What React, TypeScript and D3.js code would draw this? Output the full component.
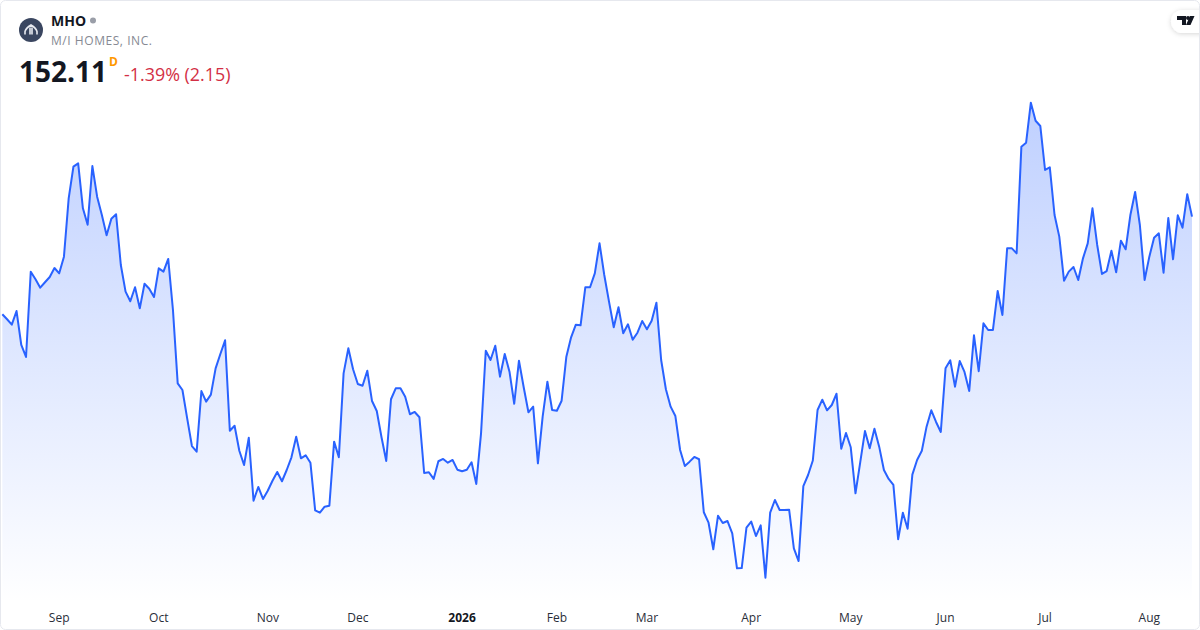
import React from 'react';
import * as d3 from 'd3';

const W = 1200;
const H = 630;
const FONT = '"Open Sans", "Noto Sans", sans-serif';

const symbol = 'MHO';
const company = 'M/I HOMES, INC.';
const lastPrice = '152.11';
const interval = 'D';
const change = '-1.39% (2.15)';

// daily closes
const closes = [
  142.74, 142.26, 141.74, 143.05, 139.79, 138.64, 146.83, 146.10, 145.29, 145.81, 146.32, 147.18,
  146.67, 148.27, 153.87, 156.91, 157.23, 152.91, 151.34, 156.97, 154.03, 152.27, 150.32, 151.91,
  152.34, 147.47, 144.91, 143.99, 145.33, 143.31, 145.67, 145.19, 144.40, 147.15, 146.83, 148.05,
  143.15, 136.11, 135.47, 132.75, 130.09, 129.55, 135.37, 134.35, 135.02, 137.55, 138.93, 140.24,
  131.56, 132.04, 129.64, 128.27, 130.89, 124.84, 126.16, 125.01, 125.80, 126.76, 127.60, 126.71,
  127.79, 129.01, 130.99, 128.91, 129.20, 128.49, 123.92, 123.69, 124.27, 124.36, 130.51, 129.01,
  137.07, 139.47, 137.46, 136.05, 135.88, 137.32, 134.41, 133.45, 130.93, 128.65, 134.58, 135.63,
  135.63, 134.83, 133.14, 133.36, 132.85, 127.50, 127.57, 126.93, 128.63, 128.85, 128.49, 128.75,
  127.82, 127.67, 127.82, 128.53, 126.45, 131.31, 139.24, 138.35, 139.72, 136.75, 138.93, 137.23,
  134.15, 138.28, 135.73, 133.33, 133.87, 128.43, 132.91, 136.27, 133.55, 133.48, 134.44, 138.67,
  140.53, 141.74, 141.68, 145.33, 145.33, 146.67, 149.55, 146.51, 143.95, 141.49, 143.41, 140.91,
  141.78, 140.30, 140.97, 142.09, 141.30, 142.12, 143.85, 138.35, 135.54, 133.87, 132.97, 129.71,
  128.17, 128.59, 129.04, 128.82, 123.73, 122.73, 120.18, 123.40, 122.70, 122.89, 121.71, 118.35,
  118.38, 122.25, 122.83, 121.45, 122.48, 117.45, 123.69, 124.91, 123.95, 123.95, 123.98, 120.27,
  119.05, 126.25, 127.31, 128.70, 133.55, 134.54, 133.52, 134.03, 135.11, 129.83, 131.34, 129.97,
  125.55, 128.53, 131.53, 129.87, 131.75, 130.03, 127.79, 126.93, 126.35, 121.14, 123.69, 122.15,
  127.34, 128.75, 129.64, 131.95, 133.52, 132.40, 131.44, 137.55, 138.32, 135.79, 138.25, 137.20,
  135.37, 140.72, 137.27, 141.87, 141.23, 141.23, 144.97, 142.67, 149.07, 149.07, 148.59, 158.83,
  159.21, 163.05, 161.32, 160.81, 156.59, 156.85, 152.27, 150.19, 145.96, 146.83, 147.28, 146.03,
  148.11, 149.55, 152.91, 149.39, 146.61, 146.89, 148.84, 146.77, 149.80, 148.98, 152.27, 154.48,
  151.31, 146.03, 148.27, 150.09, 150.51, 146.73, 151.98, 148.02, 152.24, 151.05, 154.26, 152.11,
];

// first trading session of each month
const tickLabels = ['Sep', 'Oct', 'Nov', 'Dec', '2026', 'Feb', 'Mar', 'Apr', 'May', 'Jun', 'Jul', 'Aug'];
const tickSessions = [12, 33, 56, 75, 97, 117, 136, 158, 179, 199, 220, 242];

export default function App() {
  const x = d3.scaleLinear().domain([0, closes.length - 1]).range([2.33, 1192]);
  const y = d3.scaleLinear().domain([117.45, 163.05]).range([577.7, 102.7]);

  const line = d3.line<number>().x((_, i) => x(i)).y(d => y(d));
  const area = d3.area<number>().x((_, i) => x(i)).y0(600).y1(d => y(d));

  return (
    <svg
      width={W}
      height={H}
      viewBox={`0 0 ${W} ${H}`}
      style={{ position: 'fixed', left: 0, top: 0, background: '#fff', fontFamily: FONT }}
    >
      <defs>
        <linearGradient id="fill" gradientUnits="userSpaceOnUse" x1="0" y1="102" x2="0" y2="605">
          <stop offset="0" stopColor="#2962ff" stopOpacity={0.3} />
          <stop offset="1" stopColor="#2962ff" stopOpacity={0} />
        </linearGradient>
        <filter id="badge" x="-40%" y="-40%" width="180%" height="180%">
          <feDropShadow dx="0" dy="1" stdDeviation="2.5" floodColor="#000" floodOpacity={0.16} />
        </filter>
      </defs>

      <path d={area(closes) || ''} fill="url(#fill)" />
      <path d={line(closes) || ''} fill="none" stroke="#2962ff" strokeWidth={2} strokeLinejoin="round" />

      {tickLabels.map((t, i) => (
        <text
          key={t}
          x={x(tickSessions[i])}
          y={622}
          textAnchor="middle"
          fontSize={12}
          fontWeight={t === '2026' ? 700 : 400}
          fill={t === '2026' ? '#131722' : '#2a2e39'}
        >
          {t}
        </text>
      ))}

      {/* header */}
      <circle cx={31} cy={30} r={12} fill="#3a4660" />
      <path
        d="M25 34.5 V31.5 Q26 28 31 25 Q36 28 37 31.5 V34.5 M30 34.5 V27.5 M32 34.5 V27.5"
        fill="none"
        stroke="#e8eaf0"
        strokeWidth={1.6}
      />
      <text x={51} y={26} fontSize={14} fontWeight={700} fill="#131722">{symbol}</text>
      <circle cx={93} cy={20.5} r={3} fill="#9a9ea8" />
      <text x={51} y={45} fontSize={12} fill="#868993" letterSpacing={0.55}>{company}</text>
      <text x={19} y={82} fontSize={28} fontWeight={700} fill="#131722">{lastPrice}</text>
      <text x={109} y={66} fontSize={12} fontWeight={700} fill="#ff9800">{interval}</text>
      <text x={124} y={81} fontSize={17.9} fill="#d32f45">{change}</text>

      {/* tradingview badge */}
      <rect x={1171} y={10} width={60} height={23} rx={11.5} fill="#fff" filter="url(#badge)" />
      <path d="M1177 16 H1186 V25 H1182 V20 H1177 Z M1190 16 H1194.5 L1190.5 25 H1186 Z" fill="#131722" />
      <circle cx={1188} cy={18} r={2} fill="#131722" />

      {/* frame */}
      <rect x={0.5} y={0.5} width={W - 1} height={H - 1} rx={5} fill="none" stroke="#e6e8ee" />
    </svg>
  );
}
